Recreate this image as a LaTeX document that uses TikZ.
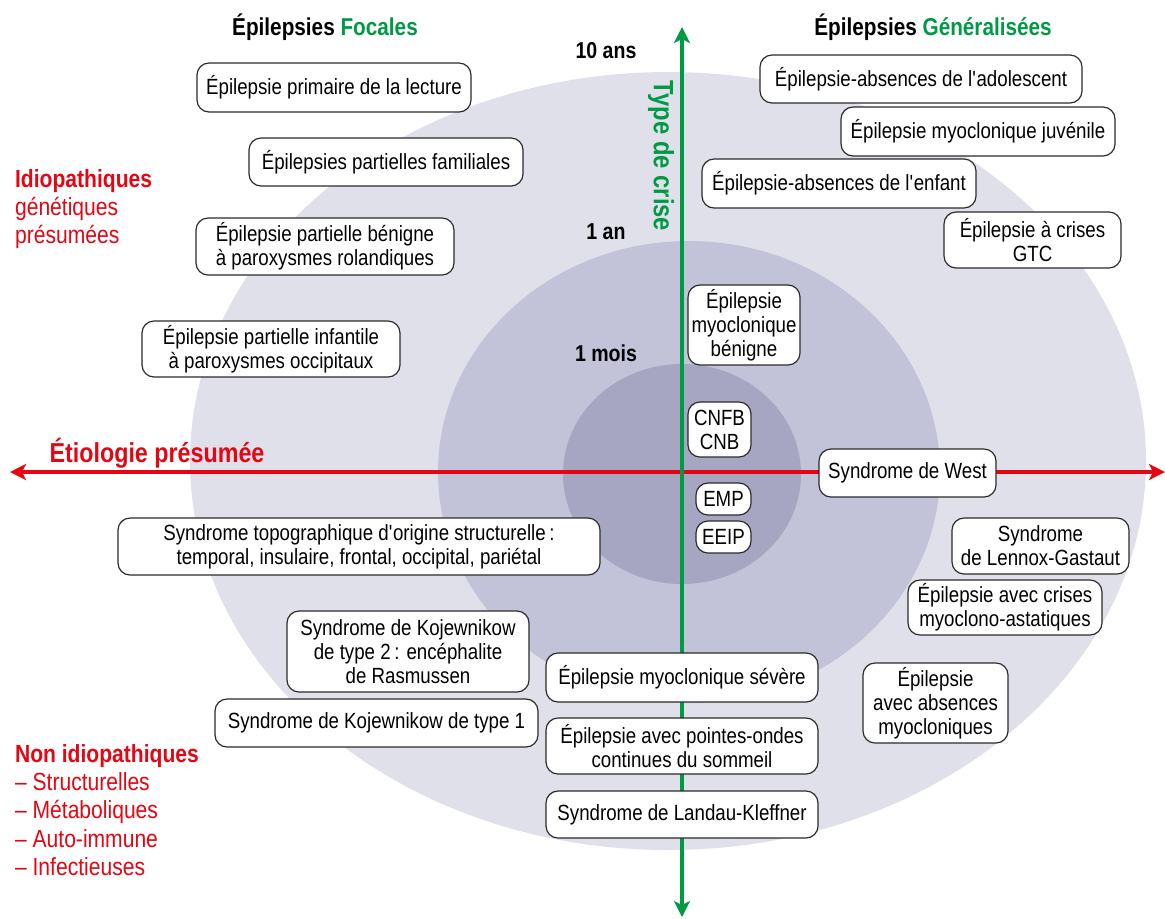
\documentclass[tikz,border=0pt]{standalone}
\usepackage{fontspec}
\setmainfont{Liberation Sans}[FakeStretch=0.85]
\usetikzlibrary{arrows.meta}
\definecolor{rouge}{HTML}{E30613}
\definecolor{vert}{HTML}{009A44}
\definecolor{zone1}{HTML}{E0E0EB}
\definecolor{zone2}{HTML}{C2C2D8}
\definecolor{zone3}{HTML}{A6A6C2}
\definecolor{trait}{HTML}{2B2B2B}
\newcommand{\apos}{\textquotesingle}
\begin{document}
\begin{tikzpicture}[x=0.5pt,y=-0.5pt,line cap=butt,line join=miter,>={Stealth[length=8pt,width=8pt,inset=2pt]},font=\fontsize{11}{12}\selectfont]
	\tikzset{boite/.style={draw=trait,line width=0.6pt,fill=white,rounded corners=6pt,align=center,inner sep=1pt},
		titre/.style={font=\fontsize{12.2}{14}\selectfont\bfseries},
		age/.style={font=\fontsize{11.5}{13}\selectfont\bfseries},
		legende/.style={anchor=west,align=left,text=rouge,font=\fontsize{12.4}{14.2}\selectfont}}
	\useasboundingbox (0,0) rectangle (1165,918);
	% les trois zones
	\fill[zone1] (668,461) ellipse [x radius=478,y radius=389];
	\fill[zone2] (689,472) ellipse [x radius=251,y radius=231];
	\fill[zone3] (682,474) ellipse [x radius=119,y radius=110];
	\coordinate (gauche) at (10,472);
	\coordinate (droite) at (1165,472);
	\coordinate (haut) at (682,27);
	\coordinate (bas) at (682,917);
	\draw[rouge,line width=1.7pt,<->] (gauche)--(droite);
	\draw[vert,line width=1.7pt,<->] (bas)--(haut);
	\node[titre] (focales) at (325,27) {Épilepsies \textcolor{vert}{Focales}};
	\node[titre] (general) at (933,27) {Épilepsies \textcolor{vert}{Généralisées}};
	\node[age] (ans10) at (606,51) {10 ans};
	\node[age] (an1) at (606,232) {1 an};
	\node[age] (mois1) at (606,353) {1 mois};
	\node[font=\fontsize{14}{16}\selectfont\bfseries,text=vert,rotate=-90] (type) at (661,156) {Type de crise};
	\node[font=\fontsize{13.7}{16}\selectfont\bfseries,text=rouge] (etio) at (157,453) {Étiologie présumée};
	\node[legende] (idio) at (8,209) {\textbf{Idiopathiques}\\génétiques\\présumées};
	\node[legende] (nonidio) at (8,810) {\textbf{Non idiopathiques}\\– Structurelles\\– Métaboliques\\– Auto-immune\\– Infectieuses};
	\foreach \n/\x/\y/\w/\h/\t in {
		lect/334/87.5/274/49/{Épilepsie primaire de la lecture},
		fam/386/162/274/48/{Épilepsies partielles familiales},
		rol/325/246.5/258/57/{Épilepsie partielle bénigne\\à paroxysmes rolandiques},
		occ/271/349/258/56/{Épilepsie partielle infantile\\à paroxysmes occipitaux},
		ado/921/79/322/48/{Épilepsie-absences de l\apos adolescent},
		juv/978/131.5/274/49/{Épilepsie myoclonique juvénile},
		enf/839/183.5/274/49/{Épilepsie-absences de l\apos enfant},
		gtc/1032.5/240/177/56/{Épilepsie à crises\\GTC},
		emb/744/325/112/80/{Épilepsie\\myoclonique\\bénigne},
		cnfb/719.5/429.5/63/55/{CNFB\\CNB},
		west/907.5/473/177/48/{Syndrome de West},
		emp/723.5/499/55/32/{EMP},
		eeip/723.5/537/55/32/{EEIP},
		topo/359/546.5/482/57/{Syndrome topographique d\apos origine structurelle\,:\\temporal, insulaire, frontal, occipital, pariétal},
		lgs/1040.5/546/177/56/{Syndrome\\de Lennox-Gastaut},
		doose/1005/607.5/194/55/{Épilepsie avec crises\\myoclono-astatiques},
		koj2/408/651.5/242/81/{Syndrome de Kojewnikow\\de type 2\,: encéphalite\\de Rasmussen},
		koj1/376.5/723/323/48/{Syndrome de Kojewnikow de type 1},
		dravet/682/677.5/272/49/{Épilepsie myoclonique sévère},
		poces/682/746/272/56/{Épilepsie avec pointes-ondes\\continues du sommeil},
		lk/682/814.5/272/47/{Syndrome de Landau-Kleffner},
		eam/935.5/703/145/80/{Épilepsie\\avec absences\\myocloniques}}{
		\node[boite,minimum width=\w*0.5pt,minimum height=\h*0.5pt] (\n) at (\x,\y) {\t};}
\end{tikzpicture}
\end{document}
